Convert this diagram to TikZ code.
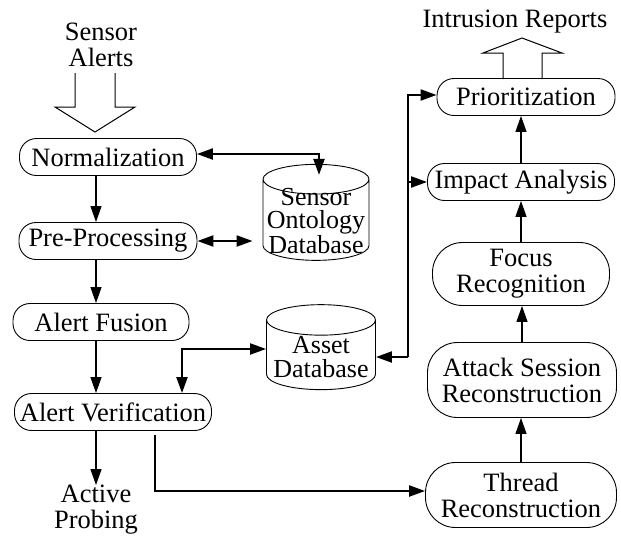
\documentclass[tikz,border=0pt]{standalone}
\usepackage{fontspec}
\setmainfont{Liberation Serif}
\usetikzlibrary{arrows.meta, shapes.geometric}

\begin{document}
\begin{tikzpicture}[
            x = 1pt, y = -1pt, % pixel grid, y runs downwards
            > = {Triangle[length=16pt, width=11pt]}, % arrow head style
            font = \fontsize{26.5}{26}\selectfont,
            semithick % line style
        ]

        \tikzstyle{every node}=[align = center, inner sep = 0pt]
        \tikzstyle{proc}=[
            draw = black,
            line width = 0.9pt,
            rectangle,
            rounded corners = 17pt,
            minimum height = 37pt
        ]
        \tikzstyle{proc2}=[proc, rounded corners = 30pt]
        \tikzstyle{store}=[
            draw = black,
            line width = 0.9pt,
            cylinder,
            shape border rotate = 90,
            text width = 106pt, % sets the end curves
            aspect = 0.28
        ]
        \tikzstyle{storetext}=[font = \fontsize{26}{23.5}\selectfont]
        \tikzstyle{flow}=[->, line width = 1.2pt]
        \tikzstyle{link}=[line width = 2.2pt]
        \tikzstyle{bigarrow}=[draw, line width = 1pt, miter limit = 10]

        \useasboundingbox (0,0) rectangle (621,539);

        % left column
        \node (alerts) at (101,45) {Sensor\\Alerts};
        \node[proc, minimum width = 177pt] (norm) at (108,157) {Normalization};
        \node[proc, minimum width = 178pt] (prep) at (108,241) {Pre-Processing};
        \node[proc, minimum width = 176pt] (fusion) at (101,322) {Alert Fusion};
        \node[proc, minimum width = 197pt] (verif) at (113,412) {Alert Verification};
        \node (probe) at (96,510) {Active\\Probing};

        % databases
        \node[store, minimum height = 96pt] (sensordb) at (316,220) {};
        \node[storetext] (sensordbtext) at (316,221) {Sensor\\Ontology\\Database};
        \node[store, minimum height = 85pt, text width = 109pt] (assetdb) at (321,355) {};
        \node[storetext] (assetdbtext) at (321,357) {Asset\\Database};

        % right column
        \node (reports) at (515,22) {Intrusion Reports};
        \node[proc, minimum width = 178pt] (prio) at (526,97) {Prioritization};
        \node[proc, minimum width = 187pt] (impact) at (521,182) {Impact Analysis};
        \node[proc2, minimum width = 177pt, minimum height = 63pt] (focus) at (521,274) {Focus\\Recognition};
        \node[proc2, minimum width = 189pt, minimum height = 75pt] (attack) at (522,380) {Attack Session\\Reconstruction};
        \node[proc2, minimum width = 191pt, minimum height = 65pt] (thread) at (521,495) {Thread\\Reconstruction};

        \coordinate (trunk) at (408,357);

        % hollow in/out arrows
        \draw[bigarrow] (75,73) -- (75,107) -- (55,107) -- (95,132) -- (135,107) -- (115,107) -- (115,73);
        \draw[bigarrow] (503,79) -- (503,53) -- (483,53) -- (522,38) -- (562,53) -- (542,53) -- (542,79);

        % alert pipeline
        \draw[flow] (norm.south -| probe) -- (prep.north -| probe);
        \draw[flow] (prep.south -| probe) -- (fusion.north -| probe);
        \draw[flow] (fusion.south -| probe) -- (verif.north -| probe);
        \draw[flow] (verif.south -| probe) -- (probe.north);

        \draw[flow] (thread.north) -- (thread.north |- attack.south);
        \draw[flow] (attack.north) -- (attack.north |- focus.south);
        \draw[flow] (focus.north) -- (focus.north |- impact.south);
        \draw[flow] (impact.north) -- (impact.north |- prio.south);

        % database links
        \draw[link, <->] ([yshift=3pt]norm.east) -| ([xshift=3pt, yshift=-11pt]sensordb.north);
        \draw[link, <->, shorten > = 10pt] (prep.east) -- (prep.east -| sensordb.west);
        \draw[link, <->] ([yshift=6pt]assetdb.west) -| ([xshift=69pt]verif.north);
        \draw[link, ->] (trunk) -- (trunk -| assetdb.east);
        \draw[link, ->] (trunk) |- ([yshift=2pt]prio.west);
        \draw[link, ->] (trunk |- impact.west) -- (impact.west);
        \draw[link, ->, shorten < = 4pt] ([xshift=42pt]verif.south) |- ([yshift=4pt]thread.west);

    \end{tikzpicture}
\end{document}
